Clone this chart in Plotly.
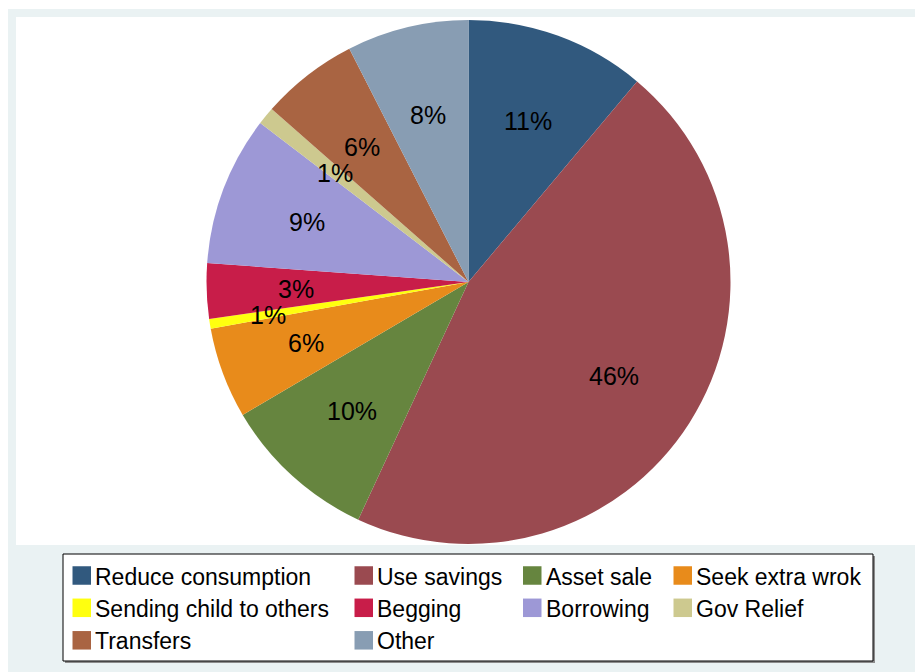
import math
import plotly.graph_objects as go

# Coping strategies and their shares (%), clockwise from 12 o'clock
strategies = [
    "Reduce consumption", "Use savings", "Asset sale", "Seek extra wrok",
    "Sending child to others", "Begging", "Borrowing", "Gov Relief",
    "Transfers", "Other",
]
shares = [11.1, 45.7, 9.6, 5.6, 0.6, 3.4, 9.2, 1.1, 6.0, 7.5]
colors = [
    "#31597E", "#9A4A50", "#66853F", "#E88B1B", "#FFFF0F",
    "#C81D49", "#9D98D6", "#CDC98F", "#A96442", "#889DB3",
]
# radial position of each percent label, as a fraction of the radius
label_radius = [0.66, 0.66, 0.66, 0.66, 0.775, 0.66, 0.66, 0.66, 0.66, 0.66]

W, H = 915, 672
FONT = "Liberation Sans, Arial, sans-serif"


def fx(x):
    return x / W


def fy(y):
    return 1 - y / H


# pie geometry in pixels
cx, cy, r = 468.5, 282.0, 262.0

fig = go.Figure(
    go.Pie(
        labels=strategies,
        values=shares,
        marker=dict(colors=colors, line=dict(width=0)),
        sort=False,
        direction="clockwise",
        rotation=0,
        textinfo="none",
        hoverinfo="label+percent",
        showlegend=False,
        domain=dict(x=[fx(cx - r), fx(cx + r)], y=[fy(cy + r), fy(cy - r)]),
    )
)

shapes = [
    dict(type="rect", xref="paper", yref="paper", x0=fx(8), x1=fx(915),
         y0=fy(672), y1=fy(9), fillcolor="#EAF2F3", line=dict(width=0), layer="below"),
    dict(type="rect", xref="paper", yref="paper", x0=fx(16), x1=fx(915),
         y0=fy(545), y1=fy(17), fillcolor="white", line=dict(width=0), layer="below"),
    # legend frame with a soft shadow
    dict(type="rect", xref="paper", yref="paper", x0=fx(65), x1=fx(875),
         y0=fy(663), y1=fy(556), fillcolor="#8C8C8C", line=dict(width=0), layer="above"),
    dict(type="rect", xref="paper", yref="paper", x0=fx(63), x1=fx(873),
         y0=fy(661), y1=fy(554), fillcolor="white", line=dict(color="black", width=1),
         layer="above"),
]

annotations = []

# percent labels at the middle angle of each slice
total = sum(shares)
cum = 0.0
for v, k in zip(shares, label_radius):
    mid = (cum + v / 2) / total * 2 * math.pi
    cum += v
    lx = cx + k * r * math.sin(mid)
    ly = cy - k * r * math.cos(mid)
    annotations.append(dict(
        x=fx(lx), y=fy(ly + 1), xref="paper", yref="paper", showarrow=False,
        text=f"{round(v / total * 100)}%", xanchor="center", yanchor="middle",
        font=dict(family=FONT, size=25, color="black"),
    ))

# legend: 4 columns x 3 rows
col_x = [72.5, 354.5, 523, 673.5]
row_y = [575.5, 607.8, 640.3]
sw = 18.5
for i, (name, c) in enumerate(zip(strategies, colors)):
    row, col = divmod(i, 4)
    x0 = col_x[col]
    yc = row_y[row]
    shapes.append(dict(
        type="rect", xref="paper", yref="paper", x0=fx(x0), x1=fx(x0 + sw),
        y0=fy(yc + sw / 2), y1=fy(yc - sw / 2), fillcolor=c,
        line=dict(width=0), layer="above",
    ))
    annotations.append(dict(
        x=fx(x0 + sw + 2), y=fy(yc + 1), xref="paper", yref="paper", showarrow=False,
        text=name, xanchor="left", yanchor="middle",
        font=dict(family=FONT, size=23, color="black"),
    ))

fig.update_layout(
    width=W, height=H,
    margin=dict(l=0, r=0, t=0, b=0),
    paper_bgcolor="white",
    plot_bgcolor="white",
    shapes=shapes,
    annotations=annotations,
    showlegend=False,
)

fig.write_html("out.html")
